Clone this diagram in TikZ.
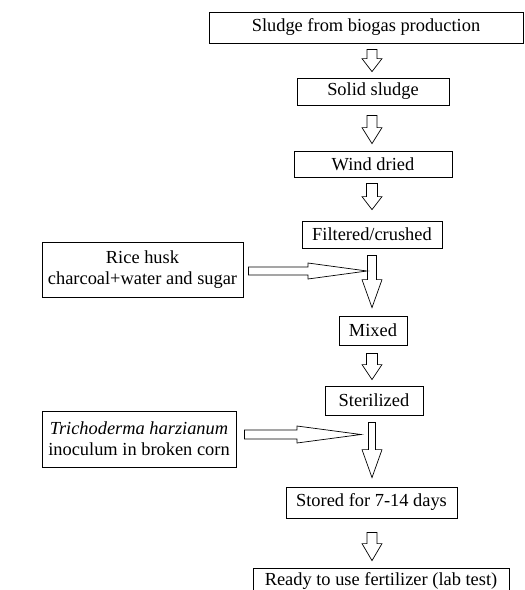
\documentclass[tikz,border=0pt]{standalone}
\usepackage{fontspec}
\setmainfont{Liberation Serif}
\usetikzlibrary{calc}

% hollow block arrows: down (upper node, lower node, gaps, head, half shaft), right (start, tip, head, half shaft, half head)
\newcommand{\flowdown}[6]{%
  \draw[flow] let \p1=($(#1.south -| axis)+(0,#3)$), \p2=($(#2.north -| axis)+(0,-#4)$) in
    (\x1-#6pt,\y1) -- (\x1+#6pt,\y1) -- (\x1+#6pt,\y2+#5pt) -- (\x1+10pt,\y2+#5pt)
    -- (\x2,\y2) -- (\x1-10pt,\y2+#5pt) -- (\x1-#6pt,\y2+#5pt) -- cycle;}
\newcommand{\flowright}[5]{%
  \draw[flow] let \p1=(#1), \p2=(#2) in
    (\x1,\y2+#4pt) -- (\x2-#3pt,\y2+#4pt) -- (\x2-#3pt,\y2+#5pt) -- (\x2,\y2)
    -- (\x2-#3pt,\y2-#5pt) -- (\x2-#3pt,\y2-#4pt) -- (\x1,\y2-#4pt) -- cycle;}

\begin{document}
\begin{tikzpicture}[x=1pt, y=-1pt,
  box/.style={draw, line width=0.8pt, inner sep=0pt, align=center,
    font=\fontsize{18.4}{21}\selectfont},
  flow/.style={draw, line width=0.7pt, line join=miter}]
 \useasboundingbox (0,0) rectangle (525,590);
 \coordinate (axis) at (372,0);

	% main column
 \node[box, minimum width=314, minimum height=31] (sludge) at (366,27.5) {Sludge from biogas production};
 \node[box, minimum width=152, minimum height=27] (solid) at (373,91.5) {Solid sludge};
 \node[box, minimum width=158, minimum height=26] (dried) at (373,164) {Wind dried};
 \node[box, minimum width=140, minimum height=27] (filtered) at (372,234.5) {Filtered/crushed};
 \node[box, minimum width=68, minimum height=29] (mixed) at (373,330.5) {Mixed};
 \node[box, minimum width=98, minimum height=29] (sterile) at (374,400.5) {Sterilized};
 \node[box, minimum width=171, minimum height=31] (stored) at (371.5,502.5) {Stored for 7-14 days};
 \node[box, minimum width=256, text height=17.5pt, text depth=14.5pt, anchor=base] (ready) at (381,585.5) {Ready to use fertilizer (lab test)};

	% additions
 \node[box, minimum width=201, minimum height=55] (rice) at (142.5,269.5) {Rice husk\\charcoal+water and sugar};
 \node[box, minimum width=194, minimum height=56] (tricho) at (139,439) {\textit{Trichoderma harzianum}\\inoculum in broken corn};
 \coordinate (join1) at (367,271);
 \coordinate (join2) at (361,434.5);

	% arrows
 \flowdown{sludge}{solid}{6}{6}{13}{5}
 \flowdown{solid}{dried}{10}{7}{16}{5}
 \flowdown{dried}{filtered}{6}{11}{13}{5.5}
 \flowdown{filtered}{mixed}{7}{8}{28}{4.5}
 \flowdown{mixed}{sterile}{8}{6}{15}{5.5}
 \flowdown{sterile}{stored}{7}{9}{28}{3.5}
 \flowdown{stored}{ready}{14}{7}{17}{5}

 \flowright{$(rice.east)+(5,0)$}{join1}{59}{4}{8}
 \flowright{$(tricho.east)+(8,0)$}{join2}{64}{4.5}{8.5}

\end{tikzpicture}
\end{document}
